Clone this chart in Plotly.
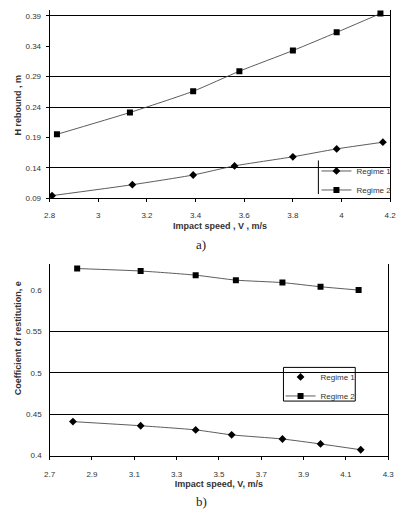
import plotly.graph_objects as go

# ---- data (a) rebound height ----
v_a_r1 = [2.81, 3.14, 3.39, 3.56, 3.80, 3.98, 4.17]
h_r1 = [0.094, 0.112, 0.128, 0.143, 0.158, 0.171, 0.182]
v_a_r2 = [2.83, 3.13, 3.39, 3.58, 3.80, 3.98, 4.16]
h_r2 = [0.195, 0.231, 0.266, 0.299, 0.333, 0.363, 0.394]

# ---- data (b) coefficient of restitution ----
v_b_r1 = [2.81, 3.13, 3.39, 3.56, 3.80, 3.98, 4.17]
e_r1 = [0.441, 0.436, 0.431, 0.425, 0.420, 0.414, 0.407]
v_b_r2 = [2.83, 3.13, 3.39, 3.58, 3.80, 3.98, 4.16]
e_r2 = [0.626, 0.623, 0.618, 0.612, 0.609, 0.604, 0.600]

xt_a = [2.8, 3.0, 3.2, 3.4, 3.6, 3.8, 4.0, 4.2]
xt_a_lbl = ["2.8", "3", "3.2", "3.4", "3.6", "3.8", "4", "4.2"]
yt_a = [0.09, 0.14, 0.19, 0.24, 0.29, 0.34, 0.39]
grid_a = [0.14, 0.24, 0.29, 0.39]
xt_b = [2.7, 2.9, 3.1, 3.3, 3.5, 3.7, 3.9, 4.1, 4.3]
yt_b = [0.4, 0.45, 0.5, 0.55, 0.6]
yt_b_lbl = ["0.4", "0.45", "0.5", "0.55", "0.6"]
grid_b = [0.45, 0.5, 0.55]

W, H = 402, 516
LINE = dict(color="#4a4a4a", width=0.9, shape="spline", smoothing=0.6)
TXT = "#333333"
FONT = "Liberation Sans, Arial, sans-serif"

fig = go.Figure()
# top chart (the two y axes share the same range; one holds gridlines, one labels)
fig.add_trace(go.Scatter(x=v_a_r1, y=h_r1, mode="lines+markers", name="Regime 1",
                         line=LINE, marker=dict(symbol="diamond", size=6, color="black"),
                         xaxis="x", yaxis="y", legend="legend"))
fig.add_trace(go.Scatter(x=v_a_r2, y=h_r2, mode="lines+markers", name="Regime 2",
                         line=LINE, marker=dict(symbol="square", size=6, color="black"),
                         xaxis="x", yaxis="y3", legend="legend"))
# bottom chart
fig.add_trace(go.Scatter(x=v_b_r1, y=e_r1, mode="lines", line=LINE, showlegend=False,
                         xaxis="x2", yaxis="y2"))
fig.add_trace(go.Scatter(x=v_b_r1, y=e_r1, mode="markers", name="Regime 1",
                         marker=dict(symbol="diamond", size=6, color="black"),
                         xaxis="x2", yaxis="y4", legend="legend2"))
fig.add_trace(go.Scatter(x=v_b_r2, y=e_r2, mode="lines+markers", name="Regime 2",
                         line=LINE, marker=dict(symbol="square", size=6, color="black"),
                         xaxis="x2", yaxis="y4", legend="legend2"))


def px_x(p):
    return p / W


def px_y(p):
    return 1 - p / H


TICKFONT = dict(size=8, color=TXT, family=FONT)

DOM_A_X = [px_x(45), px_x(396)]
DOM_A_Y = [px_y(200), px_y(10)]
DOM_B_X = [px_x(45), px_x(394)]
DOM_B_Y = [px_y(460), px_y(267)]
RNG_A = [0.09, 0.40]
RNG_B = [0.4, 0.631]

fig.update_layout(
    width=W, height=H, margin=dict(l=0, r=0, t=0, b=0),
    paper_bgcolor="white", plot_bgcolor="white",
    font=dict(family=FONT, color=TXT),
    # ---- top chart ----
    xaxis=dict(domain=DOM_A_X, anchor="y", range=[2.8, 4.2],
               tickvals=xt_a, ticktext=xt_a_lbl, showgrid=False, zeroline=False,
               showline=True, linecolor="black", linewidth=1,
               ticks="outside", ticklen=3, tickcolor="black", tickfont=TICKFONT,
               ticklabelstandoff=6,
               title=dict(text="<b>Impact speed , V , m/s</b>", font=dict(size=9), standoff=4)),
    yaxis=dict(domain=DOM_A_Y, anchor="x", range=RNG_A,
               tickvals=grid_a, showticklabels=False, showgrid=True,
               gridcolor="black", gridwidth=1, zeroline=False,
               showline=True, linecolor="black", linewidth=1, mirror=True, ticks=""),
    yaxis3=dict(domain=DOM_A_Y, overlaying="y", anchor="x", side="left", range=RNG_A,
                tickvals=yt_a, tickformat=".2f", showgrid=False, zeroline=False,
                showline=False, ticks="outside", ticklen=3, tickcolor="black",
                tickfont=TICKFONT, ticklabelstandoff=3),
    # ---- bottom chart ----
    xaxis2=dict(domain=DOM_B_X, anchor="y2", range=[2.7, 4.3],
                tickvals=xt_b, tickformat=".1f", showgrid=False, zeroline=False,
                showline=True, linecolor="black", linewidth=1,
                ticks="outside", ticklen=3, tickcolor="black", tickfont=TICKFONT,
                ticklabelstandoff=8,
                title=dict(text="<b>Impact speed, V, m/s</b>", font=dict(size=9), standoff=1)),
    yaxis2=dict(domain=DOM_B_Y, anchor="x2", range=RNG_B,
                tickvals=grid_b, showticklabels=False, showgrid=True,
                gridcolor="black", gridwidth=1, zeroline=False,
                showline=True, linecolor="black", linewidth=1, mirror=True, ticks=""),
    yaxis4=dict(domain=DOM_B_Y, overlaying="y2", anchor="x2", side="left", range=RNG_B,
                tickvals=yt_b, ticktext=yt_b_lbl, showgrid=False, zeroline=False,
                showline=False, ticks="", tickfont=TICKFONT, ticklabelstandoff=7),
    legend=dict(x=px_x(320), y=px_y(158), xanchor="left", yanchor="top",
                bgcolor="rgba(0,0,0,0)", borderwidth=0, font=dict(size=8, color=TXT),
                itemwidth=30),
    legend2=dict(x=px_x(283), y=px_y(366), xanchor="left", yanchor="top",
                 bgcolor="rgba(0,0,0,0)", borderwidth=0,
                 font=dict(size=8, color=TXT), itemwidth=30),
    shapes=[
        # legend frames (styling only)
        dict(type="rect", xref="paper", yref="paper", x0=px_x(322), x1=px_x(395),
             y0=px_y(196), y1=px_y(162), fillcolor="white", line=dict(width=0),
             layer="between"),
        dict(type="line", xref="paper", yref="paper", x0=px_x(322), x1=px_x(322),
             y0=px_y(162), y1=px_y(196), line=dict(color="black", width=1)),
        dict(type="rect", xref="paper", yref="paper", x0=px_x(286), x1=px_x(360),
             y0=px_y(405), y1=px_y(371), fillcolor="white",
             line=dict(color="black", width=1), layer="between"),
    ],
    annotations=[
        dict(text="<b>H rebound , m</b>", x=px_x(12), y=px_y(106), xref="paper", yref="paper",
             xanchor="center", yanchor="middle",
             textangle=-90, showarrow=False, font=dict(size=9, color=TXT)),
        dict(text="<b>Coefficient of restitution, e</b>", x=px_x(12), y=px_y(342),
             xref="paper", yref="paper", xanchor="center", yanchor="middle",
             textangle=-90, showarrow=False, font=dict(size=9, color=TXT)),
        dict(text="a)", x=px_x(201), y=px_y(247), xref="paper", yref="paper",
             xanchor="center", yanchor="middle",
             showarrow=False, font=dict(family="Liberation Serif, serif", size=13, color="#222")),
        dict(text="b)", x=px_x(201), y=px_y(506), xref="paper", yref="paper",
             xanchor="center", yanchor="middle",
             showarrow=False, font=dict(family="Liberation Serif, serif", size=13, color="#222")),
    ],
)

fig.write_html("out.html")
